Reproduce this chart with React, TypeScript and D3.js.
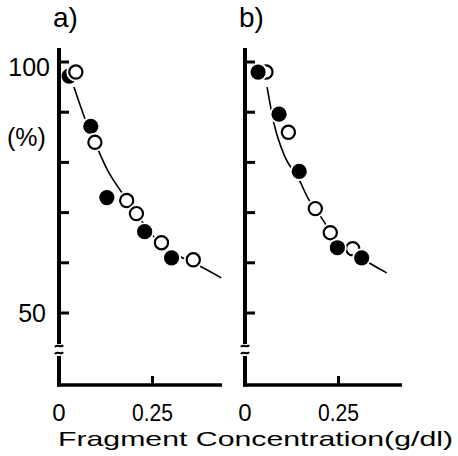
import React, { useEffect, useRef } from 'react';
import * as d3 from 'd3';

// Panel a) values
const aFilledX = [0.027, 0.085, 0.128, 0.229, 0.301];
const aFilledY = [97.2, 87.2, 73, 66.2, 61];
const aOpenX = [0.045, 0.096, 0.181, 0.207, 0.274, 0.359];
const aOpenY = [98, 84, 72.4, 69.8, 64, 60.6];
const aCurveX = [0.04, 0.069, 0.096, 0.13, 0.168, 0.207, 0.25, 0.3, 0.36, 0.434];
const aCurveY = [95, 88.8, 84, 78.4, 74, 69.8, 65.5, 62.2, 60, 57];

// Panel b)
const bFilledX = [0.035, 0.091, 0.145, 0.247, 0.312];
const bFilledY = [98, 89.6, 78.2, 63, 61];
const bOpenX = [0.056, 0.116, 0.188, 0.228, 0.288];
const bOpenY = [98, 86, 70.8, 66, 62.8];
const bCurveX = [0.059, 0.078, 0.105, 0.145, 0.169, 0.19, 0.228, 0.26, 0.3, 0.379];
const bCurveY = [95, 87.6, 81.4, 76.5, 72.8, 70.6, 66.4, 63.8, 61.5, 58];

const yTicks = [100, 90, 80, 70, 60, 50];
const xTicks = [0.25];
const xTickLabels = ['0', '0.25'];

const FONT = '"Liberation Sans", Arial, sans-serif';

export default function App() {
  const svgRef = useRef<SVGSVGElement>(null);

  useEffect(() => {
    if (!svgRef.current) return;
    const svg = d3.select(svgRef.current);
    svg.selectAll('*').remove();

    const y = d3.scaleLinear().domain([50, 100]).range([313, 62]);
    const axisTop = 48;
    const axisBottom = 385;

    const panels = [
      { label: 'a)', left: 59, right: 222, fx: aFilledX, fy: aFilledY, ox: aOpenX, oy: aOpenY, cx: aCurveX, cy: aCurveY, openOnTop: true, yLabels: true },
      { label: 'b)', left: 245, right: 402, fx: bFilledX, fy: bFilledY, ox: bOpenX, oy: bOpenY, cx: bCurveX, cy: bCurveY, openOnTop: false, yLabels: false },
    ];

    panels.forEach(p => {
      const x = d3.scaleLinear().domain([0, 0.25]).range([p.left, p.left + 93.5]);
      const g = svg.append('g');

      // curve
      const curve = d3.line<number>()
        .x((d, i) => x(p.cx[i]))
        .y(d => y(d))
        .curve(d3.curveMonotoneX);
      g.append('path')
        .datum(p.cy)
        .attr('fill', 'none')
        .attr('stroke', '#000')
        .attr('stroke-width', 1.6)
        .attr('d', curve);

      // markers
      const filled = p.fx.map((v, i) => ({ x: v, y: p.fy[i], open: false }));
      const open = p.ox.map((v, i) => ({ x: v, y: p.oy[i], open: true }));
      const pts = p.openOnTop ? [...filled, ...open] : [...open, ...filled];

      const m = g.selectAll('.pt').data(pts).enter().append('g')
        .attr('transform', d => `translate(${x(d.x)},${y(d.y)})`);
      m.append('circle').attr('r', 9.5).attr('fill', '#fff');
      m.append('circle')
        .attr('r', d => (d.open ? 6.6 : 7.6))
        .attr('fill', d => (d.open ? '#fff' : '#000'))
        .attr('stroke', '#000')
        .attr('stroke-width', d => (d.open ? 2.2 : 0));

      // y axis with break
      const ax = p.left;
      g.append('line').attr('x1', ax).attr('x2', ax).attr('y1', axisTop).attr('y2', 344)
        .attr('stroke', '#000').attr('stroke-width', 4);
      g.append('line').attr('x1', ax).attr('x2', ax).attr('y1', 356).attr('y2', axisBottom + 1.5)
        .attr('stroke', '#000').attr('stroke-width', 4);
      [346, 353].forEach(by => {
        g.append('path')
          .attr('d', `M${ax - 4},${by + 1} C${ax - 2},${by - 3} ${ax + 2},${by + 3} ${ax + 4},${by - 1}`)
          .attr('fill', 'none').attr('stroke', '#000').attr('stroke-width', 2);
      });

      // y ticks (inward)
      g.selectAll('.yt').data(yTicks).enter().append('line')
        .attr('x1', ax).attr('x2', ax + 10)
        .attr('y1', d => y(d)).attr('y2', d => y(d))
        .attr('stroke', '#000').attr('stroke-width', 3);

      // x axis
      g.append('line').attr('x1', ax - 2).attr('x2', p.right).attr('y1', axisBottom).attr('y2', axisBottom)
        .attr('stroke', '#000').attr('stroke-width', 3.5);
      g.selectAll('.xt').data(xTicks).enter().append('line')
        .attr('x1', d => x(d)).attr('x2', d => x(d))
        .attr('y1', axisBottom).attr('y2', axisBottom - 9)
        .attr('stroke', '#000').attr('stroke-width', 3);

      // x tick labels
      [0, ...xTicks].forEach((v, i) => {
        const t = g.append('text')
          .attr('x', x(v)).attr('y', 421)
          .attr('text-anchor', 'middle')
          .attr('font-family', FONT).attr('font-size', 24)
          .text(xTickLabels[i]);
        if (xTickLabels[i].length > 1) t.attr('textLength', 41).attr('lengthAdjust', 'spacingAndGlyphs');
      });

      // panel label
      g.append('text')
        .attr('x', ax - 6).attr('y', 27)
        .attr('font-family', FONT).attr('font-size', 28)
        .text(p.label);

      if (p.yLabels) {
        g.append('text').attr('x', 50).attr('y', 76)
          .attr('text-anchor', 'end').attr('font-family', FONT).attr('font-size', 25)
          .text('100');
        g.append('text').attr('x', 46).attr('y', 322)
          .attr('text-anchor', 'end').attr('font-family', FONT).attr('font-size', 25)
          .text('50');
        g.append('text').attr('x', 7).attr('y', 146)
          .attr('font-family', FONT).attr('font-size', 25)
          .text('(%)');
      }
    });

    svg.append('text')
      .attr('x', 58).attr('y', 446)
      .attr('font-family', FONT).attr('font-size', 21)
      .attr('textLength', 395).attr('lengthAdjust', 'spacingAndGlyphs')
      .text('Fragment Concentration(g/dl)');
  }, []);

  return (
    <svg
      ref={svgRef}
      width={458}
      height={456}
      style={{ position: 'absolute', left: 0, top: 0, background: '#fff' }}
    />
  );
}
